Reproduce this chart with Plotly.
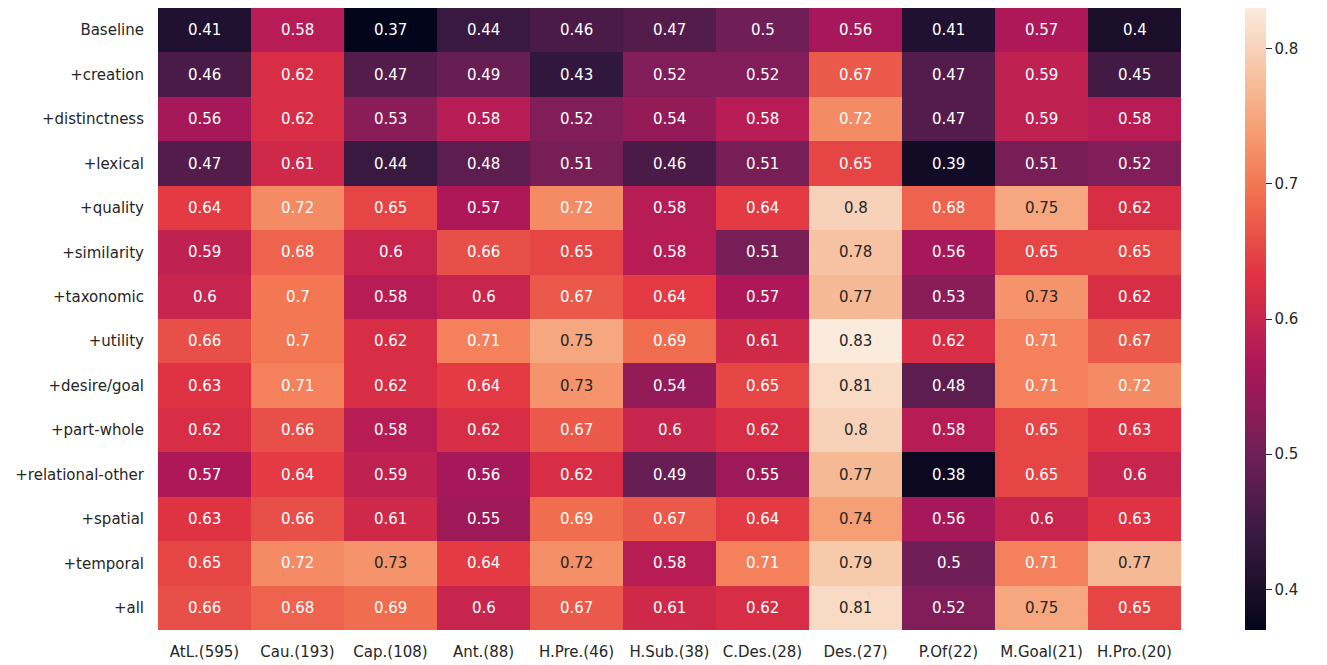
import plotly.graph_objects as go

columns = ["AtL.(595)", "Cau.(193)", "Cap.(108)", "Ant.(88)", "H.Pre.(46)", "H.Sub.(38)",
           "C.Des.(28)", "Des.(27)", "P.Of(22)", "M.Goal(21)", "H.Pro.(20)"]
rows = ["Baseline", "+creation", "+distinctness", "+lexical", "+quality", "+similarity",
        "+taxonomic", "+utility", "+desire/goal", "+part-whole", "+relational-other",
        "+spatial", "+temporal", "+all"]

baseline = [0.41, 0.58, 0.37, 0.44, 0.46, 0.47, 0.5, 0.56, 0.41, 0.57, 0.4]
creation = [0.46, 0.62, 0.47, 0.49, 0.43, 0.52, 0.52, 0.67, 0.47, 0.59, 0.45]
distinctness = [0.56, 0.62, 0.53, 0.58, 0.52, 0.54, 0.58, 0.72, 0.47, 0.59, 0.58]
lexical = [0.47, 0.61, 0.44, 0.48, 0.51, 0.46, 0.51, 0.65, 0.39, 0.51, 0.52]
quality = [0.64, 0.72, 0.65, 0.57, 0.72, 0.58, 0.64, 0.8, 0.68, 0.75, 0.62]
similarity = [0.59, 0.68, 0.6, 0.66, 0.65, 0.58, 0.51, 0.78, 0.56, 0.65, 0.65]
taxonomic = [0.6, 0.7, 0.58, 0.6, 0.67, 0.64, 0.57, 0.77, 0.53, 0.73, 0.62]
utility = [0.66, 0.7, 0.62, 0.71, 0.75, 0.69, 0.61, 0.83, 0.62, 0.71, 0.67]
desire_goal = [0.63, 0.71, 0.62, 0.64, 0.73, 0.54, 0.65, 0.81, 0.48, 0.71, 0.72]
part_whole = [0.62, 0.66, 0.58, 0.62, 0.67, 0.6, 0.62, 0.8, 0.58, 0.65, 0.63]
relational_other = [0.57, 0.64, 0.59, 0.56, 0.62, 0.49, 0.55, 0.77, 0.38, 0.65, 0.6]
spatial = [0.63, 0.66, 0.61, 0.55, 0.69, 0.67, 0.64, 0.74, 0.56, 0.6, 0.63]
temporal = [0.65, 0.72, 0.73, 0.64, 0.724, 0.58, 0.71, 0.79, 0.5, 0.71, 0.77]
all_rel = [0.66, 0.68, 0.69, 0.6, 0.67, 0.61, 0.62, 0.81, 0.52, 0.75, 0.65]

z = [baseline, creation, distinctness, lexical, quality, similarity, taxonomic, utility,
     desire_goal, part_whole, relational_other, spatial, temporal, all_rel]

rocket = [
    [0.0, "#03051a"], [0.143, "#35193e"], [0.286, "#701f57"], [0.429, "#ad1759"],
    [0.571, "#e13342"], [0.714, "#f37651"], [0.8, "#f69c73"], [0.857, "#f6b48f"],
    [0.9, "#f7c5a5"], [1.0, "#faebdd"],
]

zmin = min(min(r) for r in z)
zmax = max(max(r) for r in z)

FONT = "DejaVu Sans"
fig = go.Figure()
fig.add_trace(go.Heatmap(
    z=z, x=columns, y=rows, colorscale=rocket, zmin=zmin, zmax=zmax,
    showscale=True, xgap=0, ygap=0, hoverinfo="skip",
    colorbar=dict(
        x=1.0626, xanchor="left", xref="paper", xpad=0, ypad=0,
        y=0.5, yanchor="middle", len=1.0,
        thickness=21, outlinewidth=0, ticks="outside", ticklen=6, tickwidth=1.2,
        tickcolor="#262626", tickvals=[0.4, 0.5, 0.6, 0.7, 0.8],
        ticktext=["0.4", "0.5", "0.6", "0.7", "0.8"],
        tickfont=dict(family=FONT, size=15, color="#262626"),
    ),
))

THRESH = 0.722
for i, r in enumerate(rows):
    for j, c in enumerate(columns):
        v = z[i][j]
        fig.add_annotation(
            x=c, y=r, text=format(v, ".2g"), showarrow=False,
            font=dict(family=FONT, size=15, color="#262626" if v > THRESH else "#ffffff"),
        )

fig.update_layout(
    width=1319, height=657,
    margin=dict(l=150, r=146, t=0, b=35),
    paper_bgcolor="white", plot_bgcolor="white",
    font=dict(family=FONT, size=15, color="#262626"),
)
fig.update_xaxes(showgrid=False, zeroline=False, showline=False, ticks="",
                 tickfont=dict(family=FONT, size=15, color="#262626"), ticklabelstandoff=11)
fig.update_yaxes(showgrid=False, zeroline=False, showline=False, ticks="",
                 autorange="reversed",
                 tickfont=dict(family=FONT, size=15, color="#262626"), ticklabelstandoff=13)

fig.write_html("out.html")
